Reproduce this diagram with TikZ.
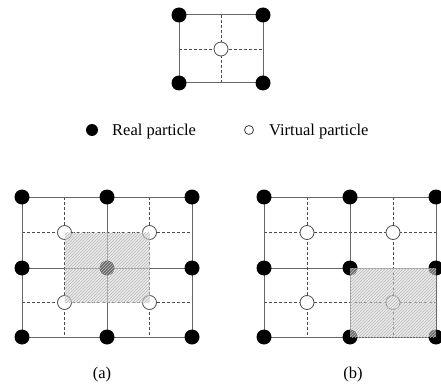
\documentclass[tikz,border=0pt]{standalone}
\usepackage{fontspec}
\setmainfont{Liberation Serif}
\usetikzlibrary{patterns,calc}
\tikzset{
 real/.style={circle,fill=black,minimum size=15pt,inner sep=0pt},
 virt/.style={circle,draw=black!70,fill=white,line width=0.8pt,minimum size=14pt,inner sep=0pt},
 legreal/.style={circle,fill=black,minimum size=12pt,inner sep=0pt},
 legvirt/.style={circle,draw=black!75,fill=white,line width=0.8pt,minimum size=9pt,inner sep=0pt},
 solidl/.style={draw=black!60,line width=1pt},
 dashl/.style={draw=black!70,line width=0.7pt,dash pattern=on 3pt off 2pt},
 shadebox/.style={fill=gray!30,fill opacity=0.5},
 hatchbox/.style={pattern=north east lines,pattern color=gray!55,fill opacity=0.5},
 lbl/.style={font=\fontsize{16.5}{18}\selectfont,inner sep=0pt}
}
\begin{document}
\begin{tikzpicture}[x=1pt,y=-1pt]
\clip (0,0) rectangle (441,390);
\fill[white] (0,0) rectangle (441,390);

% ---------- top cell ----------
\coordinate (t00) at (179,15);
\coordinate (t10) at (263,15);
\coordinate (t01) at (179,83);
\coordinate (t11) at (263,83);
\draw[dashl] ($(t00)!0.5!(t10)$) -- ($(t01)!0.5!(t11)$);
\draw[dashl] ($(t00)!0.5!(t01)$) -- ($(t10)!0.5!(t11)$);
\draw[solidl] (t00) -- (t10) -- (t11) -- (t01) -- cycle;
\foreach \n in {t00,t10,t01,t11} \node[real] (n\n) at (\n) {};
\node[virt] (tv) at ($(t00)!0.5!(t11)$) {};

% ---------- legend ----------
\node[legreal] (lr) at (92,130) {};
\node[lbl,anchor=base west] (lrt) at (112,136) {Real particle};
\node[legvirt] (lv) at (249,130) {};
\node[lbl,anchor=base west] (lvt) at (269,136) {Virtual particle};

% ---------- grids ----------
\foreach \g/\xa/\xb/\xc in {a/22/107/192, b/264/350/436}{
  \foreach \i/\x in {0/\xa,1/\xb,2/\xc}{
    \foreach \j/\y in {0/197,1/268,2/337}{
      \coordinate (\g\i\j) at (\x,\y);
    }
  }
  % dashed midlines
  \draw[dashl] ($(\g00)!0.5!(\g10)$) -- ($(\g02)!0.5!(\g12)$);
  \draw[dashl] ($(\g10)!0.5!(\g20)$) -- ($(\g12)!0.5!(\g22)$);
  \draw[dashl] ($(\g00)!0.5!(\g01)$) -- ($(\g20)!0.5!(\g21)$);
  \draw[dashl] ($(\g01)!0.5!(\g02)$) -- ($(\g21)!0.5!(\g22)$);
  % solid grid
  \draw[solidl] (\g00) -- (\g20) (\g01) -- (\g21) (\g02) -- (\g22)
                (\g00) -- (\g02) (\g10) -- (\g12) (\g20) -- (\g22);
  % real particles
  \foreach \i in {0,1,2}{\foreach \j in {0,1,2}{\node[real] (r\g\i\j) at (\g\i\j) {};}}
  % virtual particles
  \node[virt] (v\g00) at ($(\g00)!0.5!(\g11)$) {};
  \node[virt] (v\g10) at ($(\g10)!0.5!(\g21)$) {};
  \node[virt] (v\g01) at ($(\g01)!0.5!(\g12)$) {};
  \node[virt] (v\g11) at ($(\g11)!0.5!(\g22)$) {};
}

% ---------- shaded support regions ----------
\fill[shadebox] (va00.center) rectangle (va11.center);
\fill[hatchbox] (va00.center) rectangle (va11.center);
\fill[shadebox] (b11) rectangle (b22);
\fill[hatchbox] (b11) rectangle (b22);

% ---------- captions ----------
\node[lbl] (capa) at (102,375) {(a)};
\node[lbl] (capb) at (353,375) {(b)};
\end{tikzpicture}
\end{document}
